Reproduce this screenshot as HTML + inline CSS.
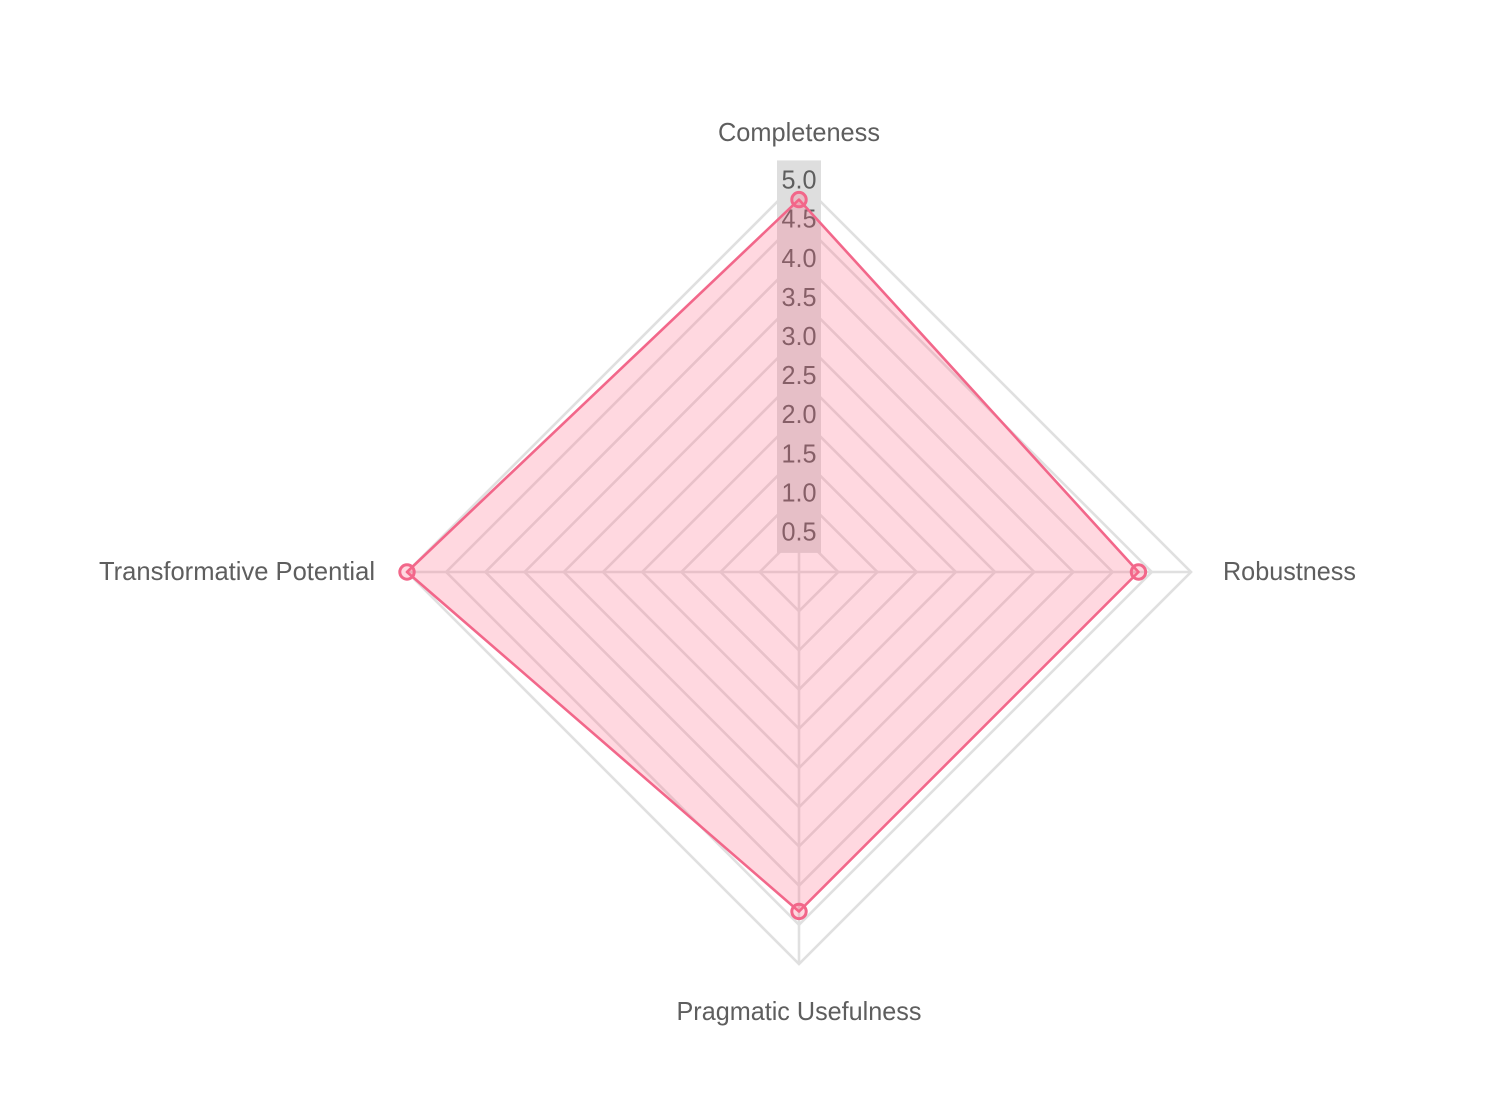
<!DOCTYPE html>
<html lang="en">
<head>
<meta charset="utf-8">
<title>Radar chart</title>
<style>
html,body{margin:0;padding:0;background:#fff;width:1491px;height:1117px;overflow:hidden}
svg{display:block;font-family:"Liberation Sans",sans-serif}
</style>
</head>
<body>
<svg id="chart" width="1491" height="1117" viewBox="0 0 1491 1117"></svg>
<script>
const categories = ["Completeness", "Robustness", "Pragmatic Usefulness", "Transformative Potential"];
const seriesValues = [4.75, 4.33, 4.33, 5.0];
const tickValues = [0.5, 1.0, 1.5, 2.0, 2.5, 3.0, 3.5, 4.0, 4.5, 5.0];
const tickLabels = ["0.5", "1.0", "1.5", "2.0", "2.5", "3.0", "3.5", "4.0", "4.5", "5.0"];

const NS = "http://www.w3.org/2000/svg";
const svg = document.getElementById("chart");
const cx = 799, cy = 572, R = 392, axisMax = 5;
const labelWidths = [162, 133, 245, 276];

function rScale(v) { return v / axisMax * R; }
function pointAt(i, v) {
  const a = -Math.PI / 2 + i * 2 * Math.PI / categories.length;
  return [cx + rScale(v) * Math.cos(a), cy + rScale(v) * Math.sin(a)];
}
function pathFor(v) {
  return categories.map((c, i) => pointAt(i, v(i)).map(n => n.toFixed(2)).join(",")).join(" ");
}
function make(tag, attrs, parent) {
  const e = document.createElementNS(NS, tag);
  for (const k in attrs) e.setAttribute(k, attrs[k]);
  parent.appendChild(e);
  return e;
}

const grid = make("g", {}, svg);


categories.forEach((c, i) => {
  const p = pointAt(i, axisMax);
  const l = make("line", {x1: cx, y1: cy, x2: p[0], y2: p[1], stroke: "#e0e0e0", "stroke-width": 2.6}, grid);
  
  
});
tickValues.forEach(t => {
  const g = make("polygon", {points: pathFor(() => t), fill: "none", stroke: "#e0e0e0", "stroke-width": 2.6}, grid);
  
  
});

const ticks = make("g", {}, svg);


const step = rScale(tickValues[1] - tickValues[0]);
tickValues.forEach((t, i) => {
  const y = cy - rScale(t);
  const b = make("rect", {x: 777, y: y - step / 2, width: 44, height: step + 0.5, fill: "#dedede"}, ticks);
  
  
});
tickValues.forEach((t, i) => {
  const y = cy - rScale(t);
  const e = make("text", {x: cx, y: y + 8.6 - (axisMax - t) * 0.2, "text-anchor": "middle", "font-size": 26, fill: "#5e5e5e", textLength: 35, lengthAdjust: "spacingAndGlyphs"}, ticks);
  e.textContent = tickLabels[i];
  
  
});

const area = make("polygon", {points: pathFor(i => seriesValues[i]), fill: "rgba(255,99,132,0.25)", stroke: "#f2678a", "stroke-width": 2.6, "stroke-linejoin": "round"}, svg);



seriesValues.forEach((v, i) => {
  const p = pointAt(i, v);
  const m = make("circle", {cx: p[0], cy: p[1], r: 7.2, fill: "rgba(255,99,132,0.25)", stroke: "#f2678a", "stroke-width": 3}, svg);
  
  
});

const labelPos = [
  {x: 799, y: 141, a: "middle"},
  {x: 1223, y: 580, a: "start"},
  {x: 799, y: 1020, a: "middle"},
  {x: 375, y: 580, a: "end"}
];
categories.forEach((c, i) => {
  const e = make("text", {x: labelPos[i].x, y: labelPos[i].y, "text-anchor": labelPos[i].a, "font-size": 26, fill: "#5e5e5e", textLength: labelWidths[i], lengthAdjust: "spacingAndGlyphs"}, svg);
  e.textContent = c;
  
  
});
</script>
</body>
</html>
